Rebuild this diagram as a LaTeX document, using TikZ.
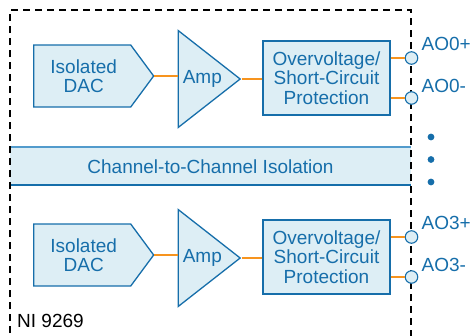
\documentclass[tikz,border=0pt]{standalone}
\usepackage{fontspec}
\setmainfont{Liberation Sans}
\usetikzlibrary{shapes.geometric,shapes.symbols,calc}
\definecolor{niblue}{RGB}{22,110,170}
\definecolor{nifill}{RGB}{221,238,245}
\definecolor{nitop}{RGB}{82,155,204}
\definecolor{niorange}{RGB}{247,148,30}

\begin{document}
\begin{tikzpicture}[x=1bp, y=-1bp,
  every node/.style={font=\fontsize{19bp}{19.5bp}\selectfont, text=niblue},
  dac/.style={signal, signal to=east, signal pointer angle=107, draw=niblue, fill=nifill, line width=1.3bp, minimum width=120bp, minimum height=62bp, inner sep=0pt, align=center, anchor=west},
  amp/.style={isosceles triangle, isosceles triangle stretches, draw=niblue, fill=nifill, line width=1.3bp, minimum width=97bp, minimum height=62bp, inner sep=0pt, anchor=lower side},
  prot/.style={rectangle, draw=niblue, fill=nifill, line width=1.3bp, minimum width=127bp, minimum height=74bp, inner sep=0pt, align=center},
  wire/.style={niorange, line width=1.6bp},
  term/.style={circle, draw=niblue, fill=nifill, line width=1.1bp, minimum size=12.5bp, inner sep=0pt},
  aolabel/.style={anchor=west, inner sep=0pt},
  frame/.style={black, line width=1.6bp, dash pattern=on 7bp off 5bp}]

\useasboundingbox (0,0) rectangle (470,335);

% isolation band
\node[fill=nifill, minimum width=401bp, minimum height=37.5bp, inner sep=0pt] (iso) at (210.5,166.25) {Channel-to-Channel Isolation};
\draw[nitop, line width=2bp] (iso.north west) -- (iso.north east);
\draw[niblue, line width=1.5bp] (iso.south west) -- (iso.south east);

% module outline
\draw[frame] (10,345) -- (10,10) -- (411,10) -- (411,345);

\foreach \ch/\dy in {0/0, 3/179} {
  \node[dac] (dac\ch) at (33,76+\dy) {\hspace*{3bp}Isolated\\\hspace*{3bp}DAC};
  \node[amp] (amp\ch) at (177.5,79+\dy) {Amp};
  \node[prot] (prot\ch) at (326.5,78+\dy) {Overvoltage/\\Short-Circuit\\Protection};
  \node[term] (t\ch p) at (411.5,58+\dy) {};
  \node[term] (t\ch m) at (411.5,98+\dy) {};
  \draw[wire] (dac\ch.east) -- (dac\ch.east -| amp\ch.lower side);
  \draw[wire] (amp\ch.apex) -- (amp\ch.apex -| prot\ch.west);
  \draw[wire] (prot\ch.east |- t\ch p) -- (t\ch p.west);
  \draw[wire] (prot\ch.east |- t\ch m) -- (t\ch m.west);
  \node[aolabel] (l\ch p) at ($(t\ch p)+(10,-14)$) {AO\ch+};
  \node[aolabel] (l\ch m) at ($(t\ch m)+(10,-12)$) {AO\ch-};
}

% more channels
\foreach \y in {137,159.5,182}
  \fill[niblue] (431,\y) circle[radius=3.4];

\node[anchor=west, inner sep=0pt, text=black] (model) at (17,321) {NI 9269};
\end{tikzpicture}
\end{document}
